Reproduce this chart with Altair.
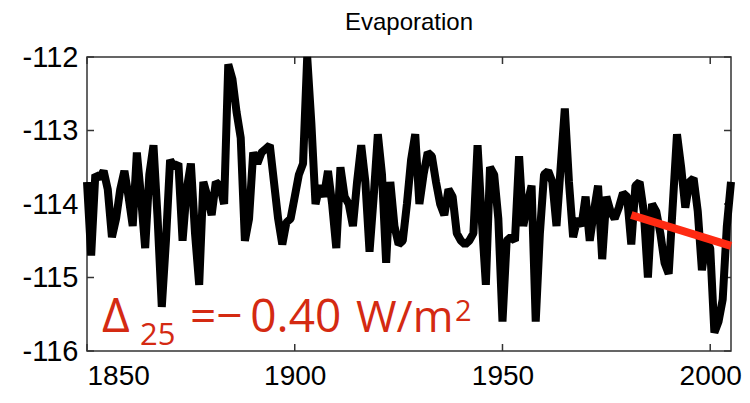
import altair as alt
import pandas as pd

years = list(range(1850, 2006))
evap = [
    -113.7, -114.7, -113.6, -113.65, -113.55, -113.8, -114.45, -114.2, -113.8, -113.55,
    -113.9, -114.3, -113.3, -113.9, -114.6, -113.6, -113.2, -114.2, -115.4, -114.5,
    -113.4, -113.5, -113.45, -114.5, -113.8, -113.45, -114.4, -115.1, -113.7, -113.9,
    -114.15, -113.7, -113.75, -114.0, -112.1, -112.3, -112.75, -113.1, -114.5, -114.2,
    -113.3, -113.45, -113.3, -113.25, -113.2, -113.7, -114.2, -114.55, -114.25, -114.2,
    -113.9, -113.6, -113.45, -112.0, -112.9, -114.0, -113.75, -113.9, -113.55, -114.0,
    -114.6, -113.5, -113.9, -114.0, -114.3, -113.7, -113.2, -113.7, -114.65, -113.9,
    -113.05, -113.6, -114.8, -113.7, -114.3, -114.55, -114.5, -114.0, -113.4, -113.05,
    -114.0, -113.6, -113.3, -113.35, -113.7, -114.0, -114.15, -113.8, -113.9, -114.4,
    -114.5, -114.55, -114.5, -114.4, -113.2, -114.2, -115.1, -113.5, -113.6, -114.2,
    -115.6, -114.5, -114.45, -114.5, -113.35, -114.3, -114.0, -113.75, -115.6, -114.4,
    -113.6, -113.55, -113.7, -114.3, -113.5, -112.7, -113.7, -114.45, -114.2, -114.3,
    -113.9, -114.5, -114.1, -113.75, -114.75, -113.9, -114.1, -114.2, -114.05, -113.85,
    -113.9, -114.55, -113.75, -113.7, -114.1, -115.0, -114.0, -114.1, -114.4, -114.8,
    -114.95, -114.0, -113.05, -113.5, -114.05, -113.7, -113.65, -114.1, -114.9, -114.5,
    -114.6, -115.75, -115.6, -115.3, -114.3, -113.7,
]
trend_years = [1981, 2005]
trend_vals = [-114.15, -114.57]
x_ticks = [1850, 1900, 1950, 2000]
y_ticks = [-116, -115, -114, -113, -112]

# annotation pieces: text, year, value, size
ann_text = ["Δ", "25", "=−", "0.40", "W/m", "2"]
ann_year = [1853.6, 1862.76, 1874.8, 1889.3, 1914.74, 1938.6]
ann_val = [-115.74, -115.92, -115.74, -115.74, -115.74, -115.59]
ann_size = [48, 31, 46, 46, 44, 29]

W, H = 644, 294
xs = alt.Scale(domain=[1850, 2005], nice=False, zero=False)
ys = alt.Scale(domain=[-116, -112], nice=False, zero=False)

df = pd.DataFrame({"year": years, "evap": evap})
tr = pd.DataFrame({"year": trend_years, "evap": trend_vals})
xt = pd.DataFrame({"year": x_ticks})
yt = pd.DataFrame({"v": y_ticks})
ann = pd.DataFrame({"t": ann_text, "year": ann_year, "v": ann_val, "s": ann_size})

x_axis = alt.Axis(values=x_ticks, format="d", domain=False, ticks=False, grid=False,
                  labelFontSize=28, labelFont="Liberation Sans",
                  labelColor="black", labelPadding=11, title=None)
y_axis = alt.Axis(values=y_ticks, domain=False, ticks=False, grid=False,
                  labelFontSize=29, labelFont="Liberation Sans",
                  labelColor="black", labelPadding=9, title=None,
                  labelExpr="datum.value + ''")

line = alt.Chart(df).mark_line(color="black", strokeWidth=8, strokeJoin="bevel").encode(
    x=alt.X("year:Q", scale=xs, axis=x_axis),
    y=alt.Y("evap:Q", scale=ys, axis=y_axis),
)
trend = alt.Chart(tr).mark_line(color="#ff2a12", strokeWidth=8).encode(
    x=alt.X("year:Q", scale=xs), y=alt.Y("evap:Q", scale=ys)
)
xt_bot = alt.Chart(xt).mark_rule(color="#333", strokeWidth=1.5).encode(
    x=alt.X("year:Q", scale=xs), y=alt.value(H), y2=alt.value(H - 7))
xt_top = alt.Chart(xt).mark_rule(color="#333", strokeWidth=1.5).encode(
    x=alt.X("year:Q", scale=xs), y=alt.value(0), y2=alt.value(7))
yt_left = alt.Chart(yt).mark_rule(color="#333", strokeWidth=1.5).encode(
    y=alt.Y("v:Q", scale=ys), x=alt.value(0), x2=alt.value(7))
yt_right = alt.Chart(yt).mark_rule(color="#333", strokeWidth=1.5).encode(
    y=alt.Y("v:Q", scale=ys), x=alt.value(W), x2=alt.value(W - 7))
text = alt.Chart(ann).mark_text(color="#d42a12", align="left", baseline="alphabetic",
                                font="Open Sans").encode(
    x=alt.X("year:Q", scale=xs), y=alt.Y("v:Q", scale=ys),
    text="t:N", size=alt.Size("s:Q", scale=None, legend=None),
)

chart = alt.layer(xt_bot, xt_top, yt_left, yt_right, line, trend, text).properties(
    width=W, height=H,
    title=alt.TitleParams("Evaporation", fontSize=24, font="Liberation Sans",
                          fontWeight="normal", offset=8, anchor="middle", color="black"),
    autosize=alt.AutoSizeParams(type="none"),
    padding={"left": 79, "top": 49, "right": 11, "bottom": 44},
).configure_view(stroke="#333", strokeWidth=1.5)

chart.save("out.html", embed_options={"renderer": "svg", "actions": False})
